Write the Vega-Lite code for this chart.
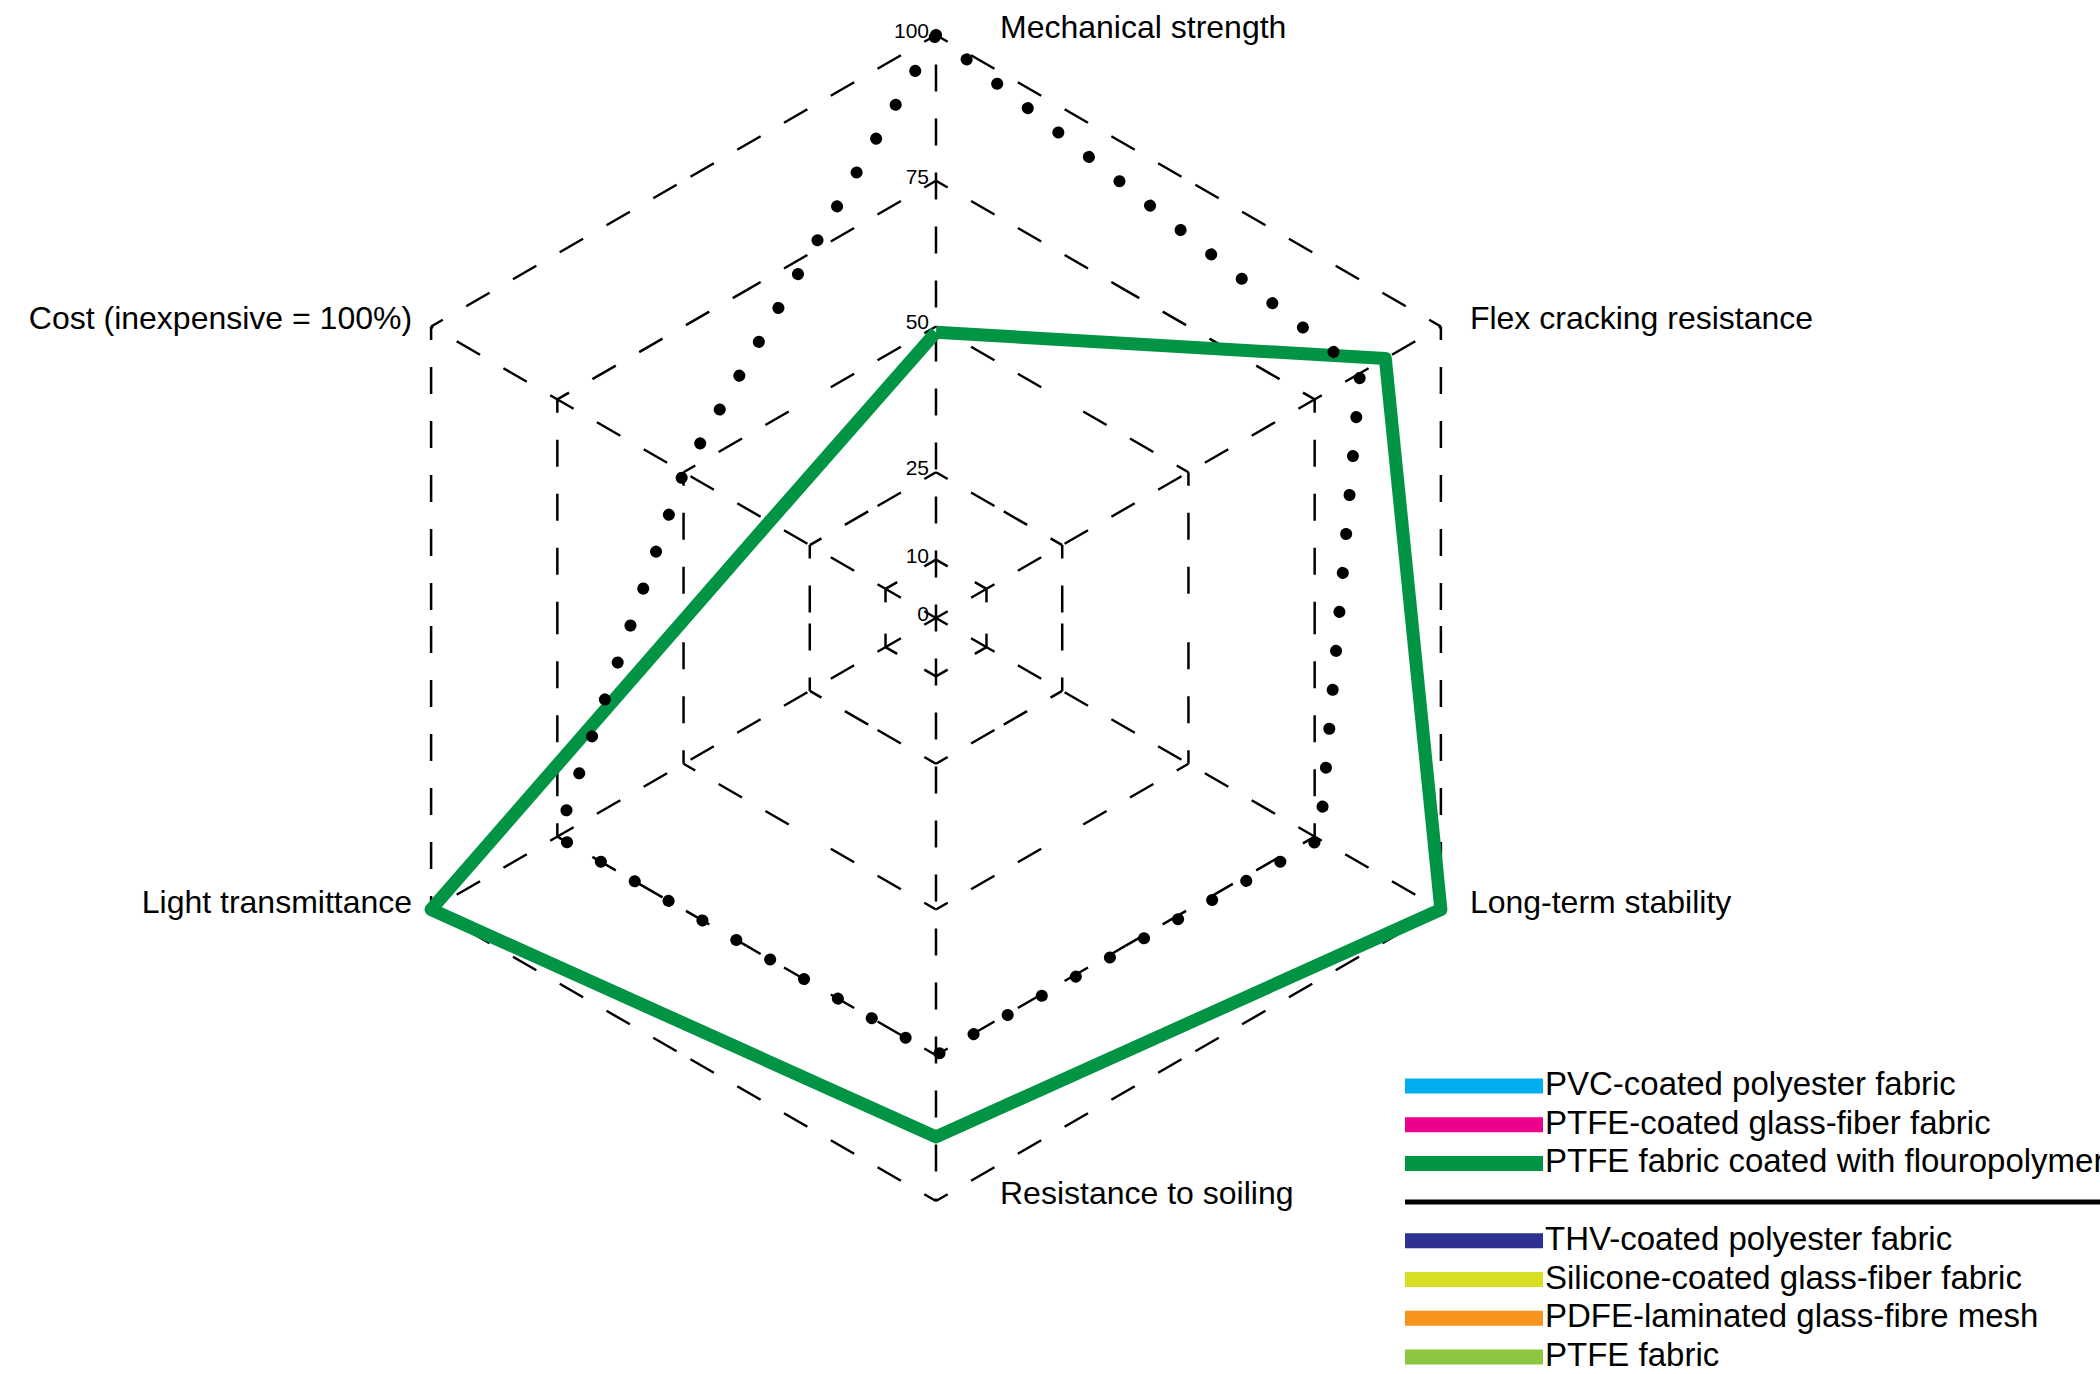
{
  "$schema": "https://vega.github.io/schema/vega-lite/v6.json",
  "width": 2100,
  "height": 1374,
  "autosize": {"type": "none"},
  "padding": 0,
  "background": "white",
  "config": {"view": {"stroke": null}},
  "datasets": {
    "series": [
      {"series": "PTFE fabric coated with flouropolymer", "k": 0, "v": 49},
      {"series": "PTFE fabric coated with flouropolymer", "k": 1, "v": 89},
      {"series": "PTFE fabric coated with flouropolymer", "k": 2, "v": 100},
      {"series": "PTFE fabric coated with flouropolymer", "k": 3, "v": 89},
      {"series": "PTFE fabric coated with flouropolymer", "k": 4, "v": 100},
      {"series": "PTFE fabric coated with flouropolymer", "k": 5, "v": 33},
      {"series": "PTFE fabric coated with flouropolymer", "k": 6, "v": 49},
      {"series": "reference", "k": 0, "v": 100},
      {"series": "reference", "k": 1, "v": 84},
      {"series": "reference", "k": 2, "v": 76},
      {"series": "reference", "k": 3, "v": 75},
      {"series": "reference", "k": 4, "v": 75},
      {"series": "reference", "k": 5, "v": 50},
      {"series": "reference", "k": 6, "v": 100}
    ],
    "axes": [
      {"k": 0, "label": "Mechanical strength"},
      {"k": 1, "label": "Flex cracking resistance"},
      {"k": 2, "label": "Long-term stability"},
      {"k": 3, "label": "Resistance to soiling"},
      {"k": 4, "label": "Light transmittance"},
      {"k": 5, "label": "Cost (inexpensive = 100%)"}
    ],
    "rings": [
      {"ring": 10, "k": [0, 1, 2, 3, 4, 5]},
      {"ring": 25, "k": [0, 1, 2, 3, 4, 5]},
      {"ring": 50, "k": [0, 1, 2, 3, 4, 5]},
      {"ring": 75, "k": [0, 1, 2, 3, 4, 5]},
      {"ring": 100, "k": [0, 1, 2, 3, 4, 5]}
    ],
    "ticks": [
      {"t": "0", "r": 0},
      {"t": "10", "r": 10},
      {"t": "25", "r": 25},
      {"t": "50", "r": 50},
      {"t": "75", "r": 75},
      {"t": "100", "r": 100}
    ],
    "legend": [
      {"material": "PVC-coated polyester fabric", "slot": 0},
      {"material": "PTFE-coated glass-fiber fabric", "slot": 1},
      {"material": "PTFE fabric coated with flouropolymer", "slot": 2},
      {"material": "THV-coated polyester fabric", "slot": 4},
      {"material": "Silicone-coated glass-fiber fabric", "slot": 5},
      {"material": "PDFE-laminated glass-fibre mesh", "slot": 6},
      {"material": "PTFE fabric", "slot": 7}
    ]
  },
  "resolve": {"scale": {"x": "independent", "y": "independent"}},
  "layer": [
    {
      "layer": [
        {
          "data": {"name": "axes"},
          "transform": [
            {"calculate": "0", "as": "o"},
            {"calculate": "100*sin(datum.k*PI/3)", "as": "ex"},
            {"calculate": "100*cos(datum.k*PI/3)", "as": "ey"}
          ],
          "mark": {"type": "rule", "color": "black", "strokeWidth": 2.5, "strokeDash": [27, 27], "strokeDashOffset": 13.5},
          "encoding": {
            "x": {"field": "o", "type": "quantitative", "scale": {"domain": [-160.55, 199.66], "nice": false, "zero": false}, "axis": null},
            "y": {"field": "o", "type": "quantitative", "scale": {"domain": [-129.67, 106.0], "nice": false, "zero": false}, "axis": null},
            "x2": {"field": "ex"},
            "y2": {"field": "ey"}
          }
        },
        {
          "data": {"name": "rings"},
          "transform": [
            {"flatten": ["k"]},
            {"calculate": "datum.ring*sin(datum.k*PI/3)", "as": "x0"},
            {"calculate": "datum.ring*cos(datum.k*PI/3)", "as": "y0"},
            {"calculate": "datum.ring*sin((datum.k+1)*PI/3)", "as": "x1"},
            {"calculate": "datum.ring*cos((datum.k+1)*PI/3)", "as": "y1"},
            {"calculate": "(datum.x0+datum.x1)/2", "as": "mx"},
            {"calculate": "(datum.y0+datum.y1)/2", "as": "my"}
          ],
          "layer": [
            {
              "mark": {"type": "rule", "color": "black", "strokeWidth": 2.5, "strokeDash": [27, 27], "strokeDashOffset": 13.5},
              "encoding": {
                "x": {"field": "x0", "type": "quantitative", "scale": {"domain": [-160.55, 199.66], "nice": false, "zero": false}, "axis": null},
                "y": {"field": "y0", "type": "quantitative", "scale": {"domain": [-129.67, 106.0], "nice": false, "zero": false}, "axis": null},
                "x2": {"field": "mx"},
                "y2": {"field": "my"}
              }
            },
            {
              "mark": {"type": "rule", "color": "black", "strokeWidth": 2.5, "strokeDash": [27, 27], "strokeDashOffset": 13.5},
              "encoding": {
                "x": {"field": "x1", "type": "quantitative", "scale": {"domain": [-160.55, 199.66], "nice": false, "zero": false}, "axis": null},
                "y": {"field": "y1", "type": "quantitative", "scale": {"domain": [-129.67, 106.0], "nice": false, "zero": false}, "axis": null},
                "x2": {"field": "mx"},
                "y2": {"field": "my"}
              }
            }
          ]
        },
        {
          "data": {"name": "ticks"},
          "transform": [{"calculate": "0", "as": "o"}],
          "mark": {"type": "text", "align": "right", "baseline": "alphabetic", "dx": -7, "dy": 3, "fontSize": 21, "font": "Liberation Sans", "color": "black"},
          "encoding": {
            "x": {"field": "o", "type": "quantitative", "scale": {"domain": [-160.55, 199.66], "nice": false, "zero": false}, "axis": null},
            "y": {"field": "r", "type": "quantitative", "scale": {"domain": [-129.67, 106.0], "nice": false, "zero": false}, "axis": null},
            "text": {"field": "t"}
          }
        },
        {
          "data": {"name": "series"},
          "transform": [
            {"filter": "datum.series === 'PTFE fabric coated with flouropolymer'"},
            {"calculate": "datum.v*sin(datum.k*PI/3)", "as": "px"},
            {"calculate": "datum.v*cos(datum.k*PI/3)", "as": "py"}
          ],
          "mark": {"type": "line", "color": "#009444", "strokeWidth": 13, "strokeJoin": "round"},
          "encoding": {
            "x": {"field": "px", "type": "quantitative", "scale": {"domain": [-160.55, 199.66], "nice": false, "zero": false}, "axis": null},
            "y": {"field": "py", "type": "quantitative", "scale": {"domain": [-129.67, 106.0], "nice": false, "zero": false}, "axis": null},
            "order": {"field": "k", "type": "quantitative"}
          }
        },
        {
          "data": {"name": "series"},
          "transform": [
            {"filter": "datum.series === 'reference'"},
            {"calculate": "datum.v*sin(datum.k*PI/3)", "as": "px"},
            {"calculate": "datum.v*cos(datum.k*PI/3)", "as": "py"}
          ],
          "mark": {"type": "line", "color": "black", "strokeWidth": 12, "strokeCap": "round", "strokeDash": [0.1, 39]},
          "encoding": {
            "x": {"field": "px", "type": "quantitative", "scale": {"domain": [-160.55, 199.66], "nice": false, "zero": false}, "axis": null},
            "y": {"field": "py", "type": "quantitative", "scale": {"domain": [-129.67, 106.0], "nice": false, "zero": false}, "axis": null},
            "order": {"field": "k", "type": "quantitative"}
          }
        },
        {
          "data": {"name": "axes"},
          "transform": [
            {"calculate": "100*sin(datum.k*PI/3)", "as": "ex"},
            {"calculate": "100*cos(datum.k*PI/3)", "as": "ey"}
          ],
          "layer": [
            {
              "transform": [{"filter": "datum.k === 0 || datum.k === 3"}],
              "mark": {"type": "text", "align": "left", "baseline": "alphabetic", "dx": 64, "dy": 3, "fontSize": 32, "font": "Liberation Sans", "color": "black"},
              "encoding": {
                "x": {"field": "ex", "type": "quantitative", "scale": {"domain": [-160.55, 199.66], "nice": false, "zero": false}, "axis": null},
                "y": {"field": "ey", "type": "quantitative", "scale": {"domain": [-129.67, 106.0], "nice": false, "zero": false}, "axis": null},
                "text": {"field": "label"}
              }
            },
            {
              "transform": [{"filter": "datum.k === 1 || datum.k === 2"}],
              "mark": {"type": "text", "align": "left", "baseline": "alphabetic", "dx": 29, "dy": 3, "fontSize": 32, "font": "Liberation Sans", "color": "black"},
              "encoding": {
                "x": {"field": "ex", "type": "quantitative", "scale": {"domain": [-160.55, 199.66], "nice": false, "zero": false}, "axis": null},
                "y": {"field": "ey", "type": "quantitative", "scale": {"domain": [-129.67, 106.0], "nice": false, "zero": false}, "axis": null},
                "text": {"field": "label"}
              }
            },
            {
              "transform": [{"filter": "datum.k === 4 || datum.k === 5"}],
              "mark": {"type": "text", "align": "right", "baseline": "alphabetic", "dx": -19, "dy": 3, "fontSize": 32, "font": "Liberation Sans", "color": "black"},
              "encoding": {
                "x": {"field": "ex", "type": "quantitative", "scale": {"domain": [-160.55, 199.66], "nice": false, "zero": false}, "axis": null},
                "y": {"field": "ey", "type": "quantitative", "scale": {"domain": [-129.67, 106.0], "nice": false, "zero": false}, "axis": null},
                "text": {"field": "label"}
              }
            }
          ]
        }
      ]
    },
    {
      "data": {"name": "legend"},
      "transform": [
        {"calculate": "0", "as": "lx0"},
        {"calculate": "1", "as": "lx1"}
      ],
      "layer": [
        {
          "mark": {"type": "rule", "strokeWidth": 15, "strokeCap": "butt"},
          "encoding": {
            "x": {"field": "lx0", "type": "quantitative", "scale": {"domain": [-10.181, 5.036], "nice": false, "zero": false}, "axis": null},
            "x2": {"field": "lx1"},
            "y": {"field": "slot", "type": "quantitative", "scale": {"domain": [-28.05, 7.44], "nice": false, "zero": false, "reverse": true}, "axis": null},
            "color": {
              "field": "material",
              "type": "nominal",
              "legend": null,
              "scale": {
                "domain": ["PVC-coated polyester fabric", "PTFE-coated glass-fiber fabric", "PTFE fabric coated with flouropolymer", "THV-coated polyester fabric", "Silicone-coated glass-fiber fabric", "PDFE-laminated glass-fibre mesh", "PTFE fabric"],
                "range": ["#00AEEF", "#EC008C", "#009444", "#2E3192", "#D7DF23", "#F7941D", "#8DC63F"]
              }
            }
          }
        },
        {
          "mark": {"type": "text", "align": "left", "baseline": "alphabetic", "dx": 2, "dy": 9, "fontSize": 33, "font": "Liberation Sans", "color": "black"},
          "encoding": {
            "x": {"field": "lx1", "type": "quantitative", "scale": {"domain": [-10.181, 5.036], "nice": false, "zero": false}, "axis": null},
            "y": {"field": "slot", "type": "quantitative", "scale": {"domain": [-28.05, 7.44], "nice": false, "zero": false, "reverse": true}, "axis": null},
            "text": {"field": "material"}
          }
        },
        {
          "transform": [
            {"filter": "datum.slot === 2"},
            {"calculate": "3", "as": "sep"},
            {"calculate": "6", "as": "lx2"}
          ],
          "mark": {"type": "rule", "color": "black", "strokeWidth": 5, "strokeCap": "butt"},
          "encoding": {
            "x": {"field": "lx0", "type": "quantitative", "scale": {"domain": [-10.181, 5.036], "nice": false, "zero": false}, "axis": null},
            "x2": {"field": "lx2"},
            "y": {"field": "sep", "type": "quantitative", "scale": {"domain": [-28.05, 7.44], "nice": false, "zero": false, "reverse": true}, "axis": null}
          }
        }
      ]
    }
  ]
}
